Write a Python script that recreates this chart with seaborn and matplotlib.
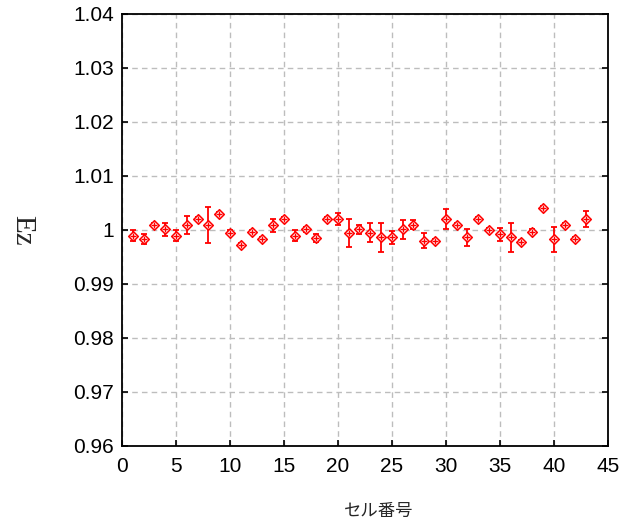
import matplotlib
matplotlib.use("Agg")
import matplotlib.pyplot as plt
import seaborn as sns
import pandas as pd

cells = list(range(1, 44))
ez = [0.9989, 0.9983, 1.0009, 1.0001, 0.9989, 1.0009, 1.0020, 1.0009, 1.0030, 0.9995,
      0.9972, 0.9997, 0.9983, 1.0009, 1.0020, 0.9989, 1.0001, 0.9985, 1.0020, 1.0020,
      0.9994, 1.0001, 0.9995, 0.9986, 0.9986, 1.0001, 1.0010, 0.9980, 0.9980, 1.0020,
      1.0009, 0.9986, 1.0020, 1.0000, 0.9992, 0.9986, 0.9977, 0.9997, 1.0040, 0.9983,
      1.0009, 0.9983, 1.0020]
err = [0.0010, 0.0010, 0.0004, 0.0012, 0.0010, 0.0016, 0.0003, 0.0034, 0.0004, 0.0005,
       0.0003, 0.0002, 0.0003, 0.0012, 0.0003, 0.0010, 0.0004, 0.0007, 0.0004, 0.0011,
       0.0026, 0.0009, 0.0017, 0.0026, 0.0012, 0.0018, 0.0009, 0.0014, 0.0004, 0.0019,
       0.0004, 0.0015, 0.0004, 0.0004, 0.0012, 0.0026, 0.0004, 0.0004, 0.0004, 0.0023,
       0.0004, 0.0004, 0.0015]
yticks = [0.96, 0.97, 0.98, 0.99, 1.0, 1.01, 1.02, 1.03, 1.04]
ytick_labels = ["0.96", "0.97", "0.98", "0.99", "1", "1.01", "1.02", "1.03", "1.04"]
xticks = [0, 5, 10, 15, 20, 25, 30, 35, 40, 45]

df = pd.DataFrame({"cell": cells, "Ez": ez, "err": err})

sns.set_style("white")
plt.rcParams['font.family'] = ['Liberation Sans', 'Noto Sans CJK JP', 'DejaVu Sans']

fig = plt.figure(figsize=(6.24, 5.24), dpi=100)
ax = fig.add_axes([0.1955, 0.149, 0.7785, 0.8245])

ax.errorbar(df["cell"], df["Ez"], yerr=df["err"], fmt='none', ecolor='red',
            elinewidth=1.3, capsize=2.5, capthick=1.3, zorder=3)
sns.scatterplot(data=df, x="cell", y="Ez", ax=ax, marker='D', s=24,
                facecolor='white', edgecolor='red', linewidth=1.1, zorder=4)
sns.scatterplot(data=df, x="cell", y="Ez", ax=ax, marker='+', s=24,
                color='red', linewidth=1.0, zorder=5)

ax.set_xlim(0, 45)
ax.set_ylim(0.96, 1.04)
ax.set_xticks(xticks)
ax.set_xticklabels([str(v) for v in xticks])
ax.set_yticks(yticks)
ax.set_yticklabels(ytick_labels)
ax.grid(True, color='#bdbdbd', linestyle=(0, (4, 3)), linewidth=1.0)
ax.set_axisbelow(True)
for s in ax.spines.values():
    s.set_color('black')
    s.set_linewidth(1.3)
ax.tick_params(axis='both', direction='in', length=4, width=1.2, labelsize=15,
               colors='black', right=True, top=False, bottom=True, left=True, pad=6)
ax.tick_params(axis='x', pad=8)

ax.set_xlabel("セル番号", fontsize=12.5, va='center')
ax.xaxis.set_label_coords(0.529, -0.152)
ax.set_ylabel("Ez", fontsize=21, family=['Liberation Serif', 'DejaVu Serif'],
              rotation=-90, va='center')
ax.yaxis.set_label_coords(-0.205, 0.5)

fig.savefig("out.png", dpi=100, facecolor='white')
